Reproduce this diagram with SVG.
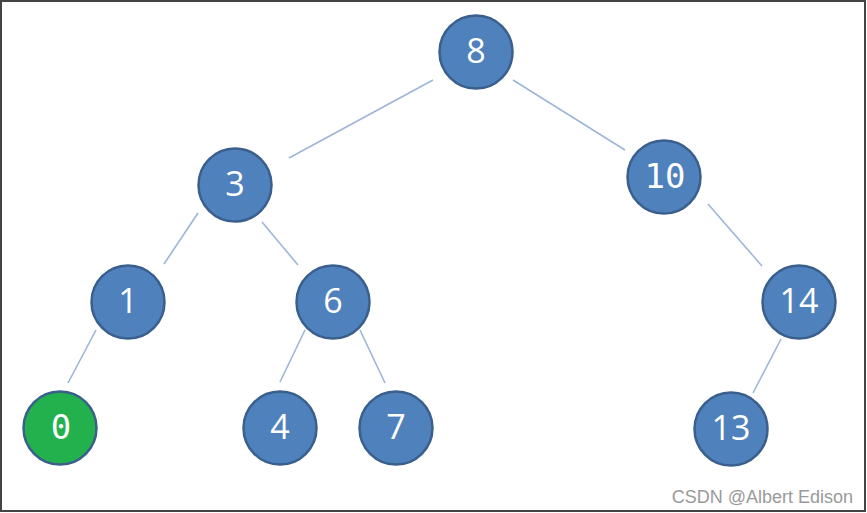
<svg xmlns="http://www.w3.org/2000/svg" width="867" height="513" viewBox="0 0 867 513">
<style>
.node circle{fill:#4f81bd;stroke:#3a5f8c;stroke-width:2.5}
.node text{fill:#fff;font-family:"Open Sans","Liberation Sans",sans-serif;font-size:34px;text-anchor:middle;dominant-baseline:central}
.node text.mono{font-family:"DejaVu Sans Mono","Liberation Mono",monospace;font-size:34px}
#edges line{stroke:#9db6d8;stroke-width:1.6}
.wm{fill:#9a9a9a;font-family:"Liberation Sans",Arial,sans-serif;font-size:18px;text-anchor:end}
</style>
<rect x="0" y="0" width="867" height="513" fill="#fff"/>
<rect x="1" y="1" width="864" height="510" fill="none" stroke="#444" stroke-width="2"/>
<g id="edges">
<line x1="433" y1="80" x2="289" y2="158"/>
<line x1="513" y1="80" x2="625" y2="150"/>
<line x1="198" y1="213" x2="164" y2="264"/>
<line x1="262" y1="222" x2="298" y2="265"/>
<line x1="708" y1="204" x2="762" y2="266"/>
<line x1="96" y1="330" x2="68" y2="383"/>
<line x1="305" y1="330" x2="280" y2="382"/>
<line x1="360" y1="330" x2="385" y2="383"/>
<line x1="781" y1="339" x2="753" y2="393"/>
</g>
<g id="n8" class="node"><circle cx="476" cy="52" r="36.5"/><text x="476" y="50">8</text></g>
<g id="n3" class="node"><circle cx="235" cy="185" r="36.5"/><text x="235" y="183">3</text></g>
<g id="n10" class="node"><circle cx="664" cy="177" r="36.5"/><text class="mono" x="665" y="176">10</text></g>
<g id="n1" class="node"><circle cx="128" cy="302" r="36.5"/><text x="128" y="300">1</text></g>
<g id="n6" class="node"><circle cx="333" cy="302" r="36.5"/><text x="333" y="300">6</text></g>
<g id="n14" class="node"><circle cx="799" cy="302" r="36.5"/><text x="799" y="300">14</text></g>
<g id="n0" class="node"><circle cx="60" cy="428" r="36.5" style="fill:#22b14c"/><text class="mono" x="61" y="427">0</text></g>
<g id="n4" class="node"><circle cx="280" cy="428" r="36.5"/><text x="280" y="426">4</text></g>
<g id="n7" class="node"><circle cx="396" cy="428" r="36.5"/><text x="396" y="426">7</text></g>
<g id="n13" class="node"><circle cx="731" cy="429" r="36.5"/><text x="731" y="427">13</text></g>
<text class="wm" x="853" y="503">CSDN @Albert Edison</text>
</svg>
